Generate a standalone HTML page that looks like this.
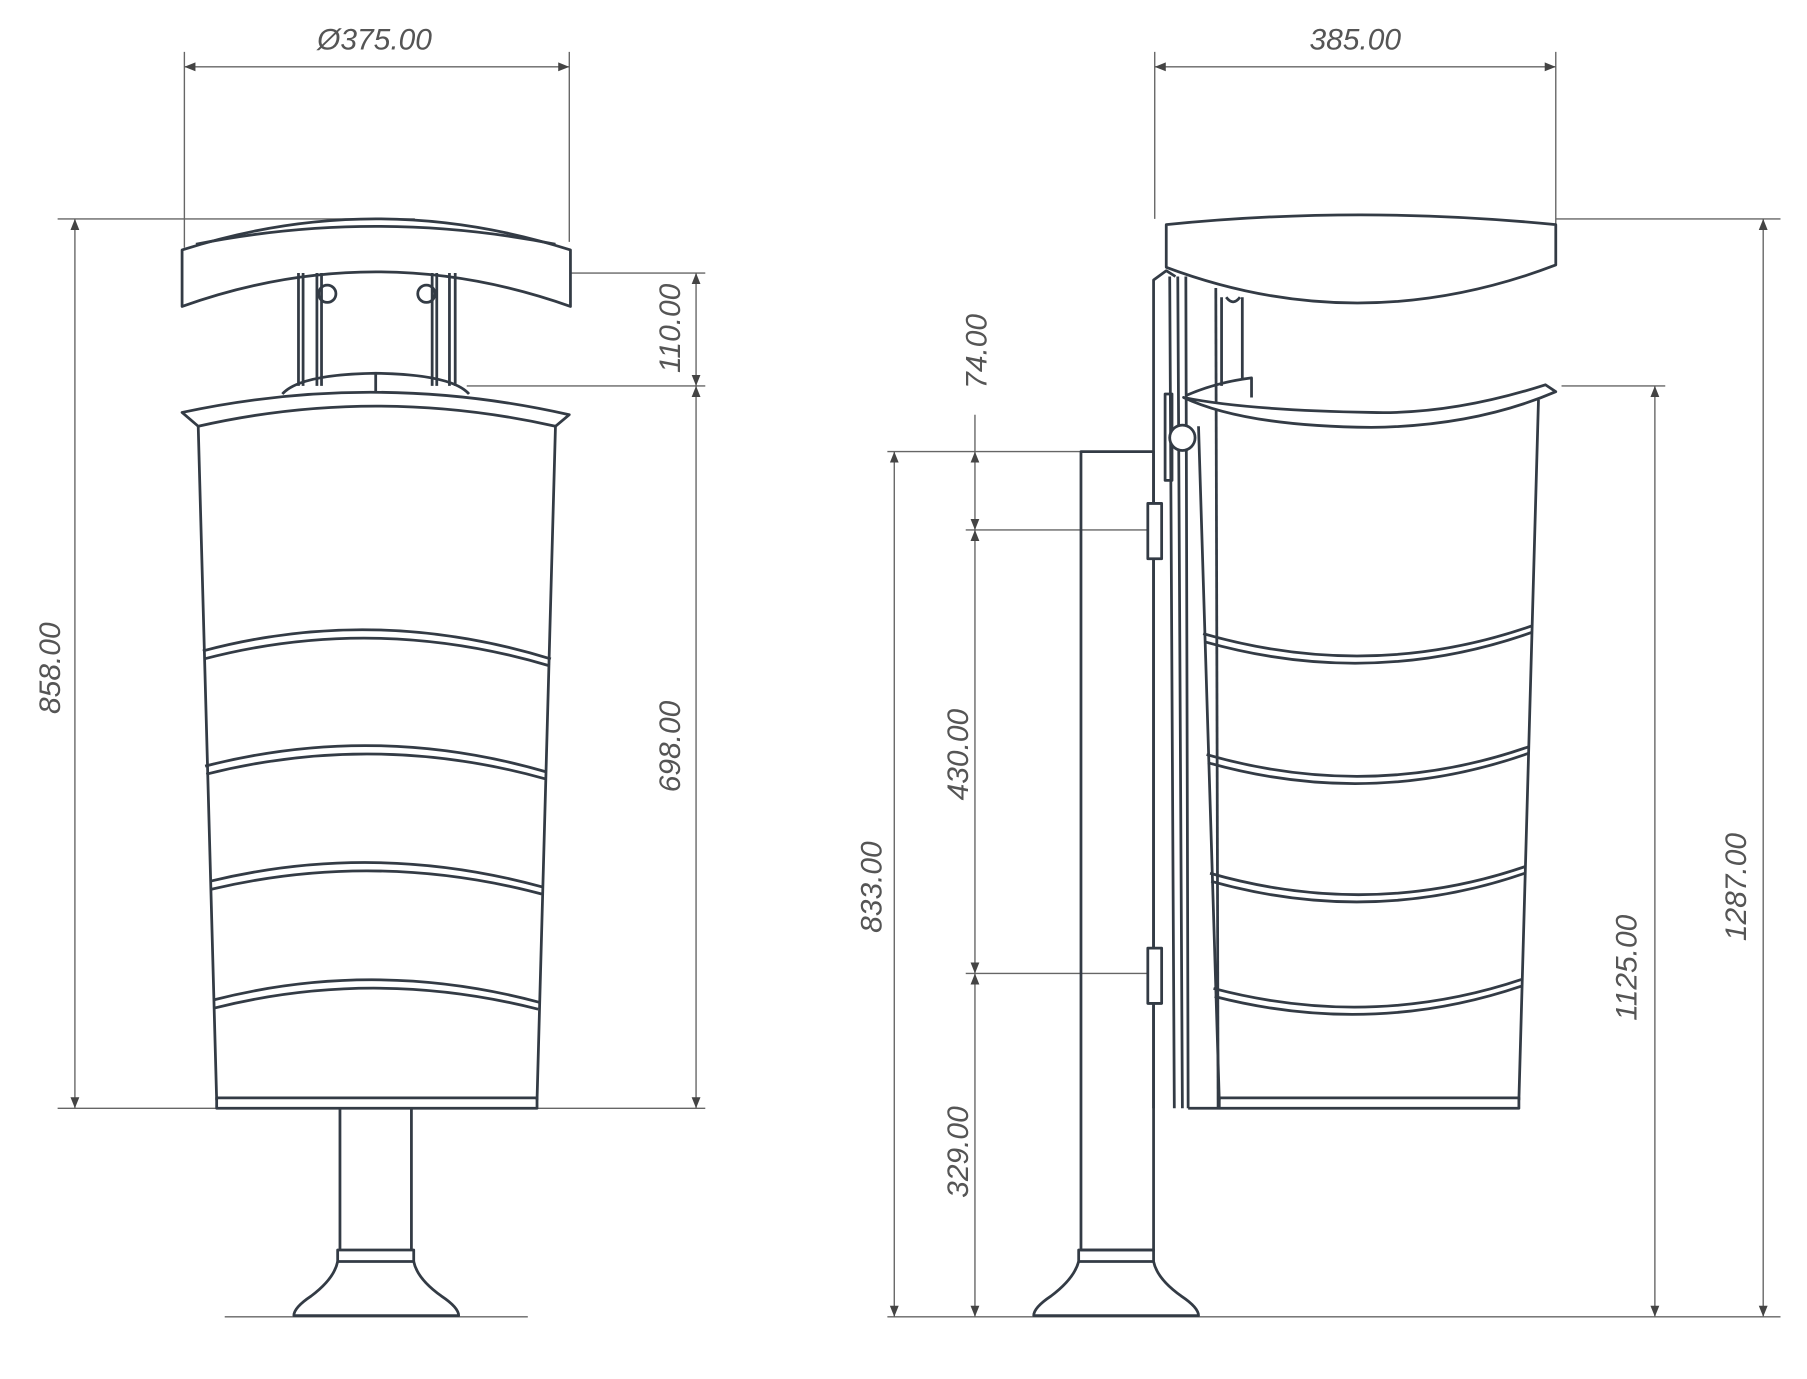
<!DOCTYPE html>
<html><head><meta charset="utf-8"><style>
html,body{margin:0;padding:0;background:#fff;}
svg{display:block;}
text{font-family:"Liberation Sans",sans-serif;font-style:italic;font-size:26px;fill:#555;}
</style></head><body>
<svg width="1807" height="1379" viewBox="0 0 1568 1197" preserveAspectRatio="none" xmlns="http://www.w3.org/2000/svg">
<defs>
<marker id="a" viewBox="0 0 10 10" refX="10" refY="5" markerWidth="8" markerHeight="8" orient="auto-start-reverse"><path d="M0,1 L10,5 L0,9 Z" fill="#444"/></marker>
</defs>
<g stroke="#666" stroke-width="1.2" fill="none">
<line x1="160" y1="45" x2="160" y2="215"/><line x1="494" y1="45" x2="494" y2="210"/>
<line x1="160" y1="58" x2="494" y2="58" marker-start="url(#a)" marker-end="url(#a)"/>
<line x1="50" y1="190" x2="360" y2="190"/><line x1="50" y1="962" x2="190" y2="962"/>
<line x1="65" y1="190" x2="65" y2="962" marker-start="url(#a)" marker-end="url(#a)"/>
<line x1="392" y1="237" x2="612" y2="237"/><line x1="405" y1="335" x2="612" y2="335"/><line x1="466" y1="962" x2="612" y2="962"/>
<line x1="604" y1="237" x2="604" y2="335" marker-start="url(#a)" marker-end="url(#a)"/>
<line x1="604" y1="335" x2="604" y2="962" marker-start="url(#a)" marker-end="url(#a)"/>
<line x1="195" y1="1143" x2="458" y2="1143"/>
<line x1="1002" y1="45" x2="1002" y2="190"/><line x1="1350" y1="45" x2="1350" y2="195"/>
<line x1="1002" y1="58" x2="1350" y2="58" marker-start="url(#a)" marker-end="url(#a)"/>
<line x1="1350" y1="190" x2="1545" y2="190"/><line x1="1355" y1="335" x2="1445" y2="335"/>
<line x1="1530" y1="190" x2="1530" y2="1143" marker-start="url(#a)" marker-end="url(#a)"/>
<line x1="1436" y1="335" x2="1436" y2="1143" marker-start="url(#a)" marker-end="url(#a)"/>
<line x1="770" y1="1143" x2="1545" y2="1143"/>
<line x1="770" y1="392" x2="938" y2="392"/><line x1="838" y1="460" x2="996" y2="460"/><line x1="838" y1="845" x2="996" y2="845"/>
<line x1="776" y1="392" x2="776" y2="1143" marker-start="url(#a)" marker-end="url(#a)"/>
<line x1="846" y1="392" x2="846" y2="460" marker-start="url(#a)" marker-end="url(#a)"/>
<line x1="846" y1="460" x2="846" y2="845" marker-start="url(#a)" marker-end="url(#a)"/>
<line x1="846" y1="845" x2="846" y2="1143" marker-start="url(#a)" marker-end="url(#a)"/>
<line x1="846" y1="360" x2="846" y2="392"/>
</g>
<text x="325" y="43" text-anchor="middle">Ø375.00</text>
<text x="1176" y="43" text-anchor="middle">385.00</text>
<text transform="translate(52,580) rotate(-90)" text-anchor="middle">858.00</text>
<text transform="translate(590,285) rotate(-90)" text-anchor="middle">110.00</text>
<text transform="translate(590,648) rotate(-90)" text-anchor="middle">698.00</text>
<text transform="translate(856,305) rotate(-90)" text-anchor="middle">74.00</text>
<text transform="translate(840,655) rotate(-90)" text-anchor="middle">430.00</text>
<text transform="translate(840,1000) rotate(-90)" text-anchor="middle">329.00</text>
<text transform="translate(765,770) rotate(-90)" text-anchor="middle">833.00</text>
<text transform="translate(1420,840) rotate(-90)" text-anchor="middle">1125.00</text>
<text transform="translate(1515,770) rotate(-90)" text-anchor="middle">1287.00</text>
<g stroke="#333b45" stroke-width="2.4" fill="none" stroke-linejoin="round">
<path d="M158,217 Q326,163 495,217 L495,266 Q326,206 158,266 Z" fill="#fff"/>
<path d="M170,212 Q326,181 482,212"/>
<line x1="259" y1="237" x2="259" y2="335"/><line x1="263" y1="237" x2="263" y2="335"/>
<line x1="275" y1="237" x2="275" y2="335"/><line x1="279" y1="237" x2="279" y2="335"/>
<line x1="375" y1="237" x2="375" y2="335"/><line x1="379" y1="237" x2="379" y2="335"/>
<line x1="390" y1="237" x2="390" y2="335"/><line x1="395" y1="237" x2="395" y2="335"/>
<circle cx="284" cy="255" r="7.5"/><circle cx="370" cy="255" r="7.5"/>
<path d="M245,342 Q260,325 326,324 Q392,325 407,342"/>
<line x1="326" y1="325" x2="326" y2="343"/>
<path d="M158,358 Q326,322 494,360 L482,370 Q326,335 172,370 Z" fill="#fff"/>
<path d="M172,370 L188,955 M482,370 L466,955"/>
<path d="M176,565 Q326,525 478,572"/><path d="M177,572 Q326,533 477,578"/>
<path d="M178,665 Q326,627 474,670"/><path d="M179,672 Q326,635 473,676"/>
<path d="M182,765 Q326,730 471,770"/><path d="M183,772 Q326,738 470,776"/>
<path d="M185,868 Q326,832 468,870"/><path d="M186,875 Q326,840 467,876"/>
<rect x="188" y="953" width="278" height="9"/>
<path d="M295,962 L295,1085 M357,962 L357,1085"/>
<rect x="293" y="1085" width="66" height="10"/>
<path d="M293,1095 Q290,1110 270,1125 Q255,1135 255,1142 L398,1142 Q398,1135 383,1125 Q362,1110 359,1095"/>
<path d="M938,392 L1001,392 L1001,1085 L938,1085 Z"/>
<rect x="936" y="1085" width="65" height="10"/>
<path d="M936,1095 Q932,1110 912,1125 Q897,1135 897,1142 L1040,1142 Q1040,1135 1025,1125 Q1004,1110 1001,1095"/>
<path d="M1001,962 L1001,243 L1012,235 L1020,240"/>
<path d="M1015,240 L1019,962 M1022,240 L1026,962 M1029,240 L1031,962 M1031,962 L1058,962"/>
<path d="M1055,250 L1057,962"/>
<path d="M1060,258 L1060,335 M1078,258 L1078,330"/>
<path d="M1012,195 Q1180,178 1350,195 L1350,230 Q1180,295 1012,232 Z" fill="#fff"/>
<path d="M1064,258 Q1070,266 1076,258"/>
<rect x="1011" y="342" width="6" height="75"/>
<path d="M1030,343 Q1055,332 1086,328 L1086,345"/>
<path d="M1027,345 Q1080,370 1190,371 Q1280,370 1350,340 L1341,334 Q1260,360 1190,358 Q1080,356 1027,345 Z" fill="#fff"/>
<circle cx="1026" cy="380" r="11" fill="#fff"/>
<path d="M1040,370 L1058,955 M1335,347 L1318,955"/>
<path d="M1044,550 Q1190,592 1330,543"/><path d="M1045,557 Q1190,598 1329,549"/>
<path d="M1047,655 Q1190,696 1327,648"/><path d="M1048,662 Q1190,702 1326,654"/>
<path d="M1050,758 Q1190,798 1324,752"/><path d="M1051,765 Q1190,804 1323,758"/>
<path d="M1053,858 Q1190,894 1321,850"/><path d="M1054,865 Q1190,900 1320,856"/>
<rect x="1058" y="953" width="260" height="9"/>
<rect x="996" y="437" width="12" height="48" fill="#fff"/>
<rect x="996" y="823" width="12" height="48" fill="#fff"/>
</g>
</svg>
</body></html>
